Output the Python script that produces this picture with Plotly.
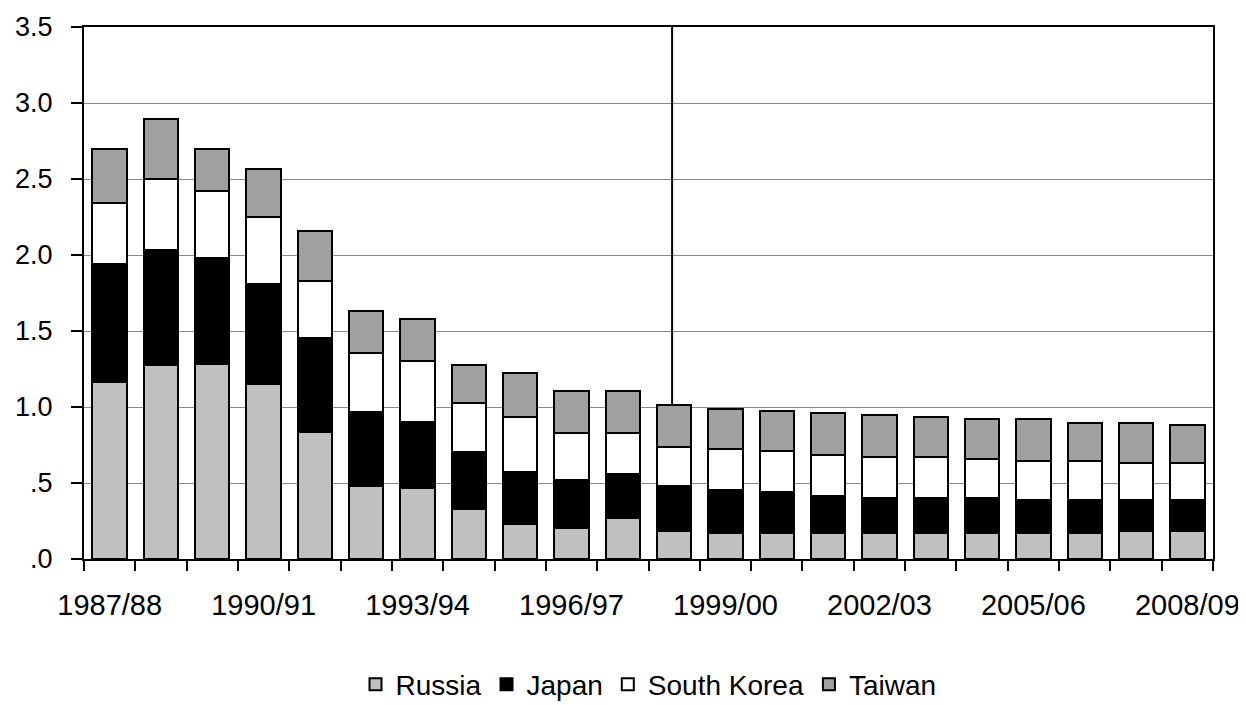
import plotly.graph_objects as go

# ── DATA ──────────────────────────────────────────────────────────────────────

SEASONS = [
    "1987/88", "1988/89", "1989/90", "1990/91", "1991/92", "1992/93",
    "1993/94", "1994/95", "1995/96", "1996/97", "1997/98", "1998/99",
    "1999/00", "2000/01", "2001/02", "2002/03", "2003/04", "2004/05",
    "2005/06", "2006/07", "2007/08", "2008/09",
]

RUSSIA = [1.167, 1.274, 1.285, 1.153, 0.838, 0.483, 0.470, 0.327, 0.232, 0.206, 0.272,
          0.183, 0.169, 0.169, 0.169, 0.169, 0.169, 0.169, 0.169, 0.169, 0.182, 0.182]
JAPAN = [0.773, 0.756, 0.695, 0.654, 0.614, 0.483, 0.431, 0.377, 0.340, 0.312, 0.287,
         0.296, 0.285, 0.272, 0.245, 0.232, 0.232, 0.232, 0.219, 0.219, 0.206, 0.206]
SOUTH_KOREA = [0.404, 0.470, 0.440, 0.443, 0.378, 0.391, 0.404, 0.324, 0.364, 0.311, 0.268,
               0.260, 0.270, 0.270, 0.270, 0.270, 0.272, 0.257, 0.259, 0.259, 0.244, 0.242]
TAIWAN = [0.356, 0.395, 0.280, 0.316, 0.330, 0.276, 0.276, 0.250, 0.290, 0.278, 0.280,
          0.276, 0.263, 0.263, 0.279, 0.279, 0.263, 0.265, 0.276, 0.250, 0.265, 0.254]

Y_TICKS = [0, 0.5, 1.0, 1.5, 2.0, 2.5, 3.0, 3.5]
Y_LABELS = [".0", ".5", "1.0", "1.5", "2.0", "2.5", "3.0", "3.5"]

# season where the vertical divider line is drawn
DIVIDER_SEASON = "1998/99"

# ── STYLE ─────────────────────────────────────────────────────────────────────

FONT = "Liberation Sans, Arial, sans-serif"

SERIES = [
    ("Russia",      RUSSIA,      "#c0c0c0"),
    ("Japan",       JAPAN,       "#000000"),
    ("South Korea", SOUTH_KOREA, "#ffffff"),
    ("Taiwan",      TAIWAN,      "#a0a0a0"),
]

# ── FIGURE ────────────────────────────────────────────────────────────────────

fig = go.Figure()

for name, values, colour in SERIES:
    fig.add_trace(go.Bar(
        x=SEASONS,
        y=values,
        name=name,
        marker=dict(color=colour, line=dict(color="black", width=2)),
    ))

# vertical divider from the top of the divider bar up to the top of the plot
idx = SEASONS.index(DIVIDER_SEASON)
bar_top = RUSSIA[idx] + JAPAN[idx] + SOUTH_KOREA[idx] + TAIWAN[idx]
fig.add_shape(
    type="line",
    xref="x", yref="y",
    x0=idx - 0.04, x1=idx - 0.04,
    y0=bar_top, y1=3.5,
    line=dict(color="black", width=2),
)

tick_text = [s if i % 3 == 0 else "" for i, s in enumerate(SEASONS)]

# the page body adds an 8px margin, so the figure is 8px smaller on each side
fig.update_layout(
    width=1238,
    height=697,
    barmode="stack",
    bargap=0.33,
    plot_bgcolor="white",
    paper_bgcolor="white",
    font=dict(family=FONT, size=27, color="black"),
    margin=dict(l=76, r=33, t=19, b=146, autoexpand=False),
    xaxis=dict(
        type="category",
        tickvals=SEASONS,
        ticktext=tick_text,
        tickson="boundaries",
        ticks="outside",
        ticklen=10,
        tickwidth=2,
        tickcolor="black",
        showline=True,
        linecolor="black",
        linewidth=2,
        mirror=True,
        showgrid=False,
        tickangle=0,
        tickfont=dict(size=29),
        ticklabelstandoff=19,
        automargin=False,
    ),
    yaxis=dict(
        range=[0, 3.5],
        tickvals=Y_TICKS,
        ticktext=Y_LABELS,
        ticks="outside",
        ticklen=11,
        tickwidth=2,
        tickcolor="black",
        showline=True,
        linecolor="black",
        linewidth=2,
        mirror=True,
        showgrid=True,
        gridcolor="#8c8c8c",
        gridwidth=1,
        zeroline=False,
        tickfont=dict(size=27),
        ticklabelstandoff=13,
        automargin=False,
    ),
    legend=dict(
        orientation="h",
        x=0.5, xanchor="center",
        y=-0.236, yanchor="middle",
        traceorder="normal",
        font=dict(size=28),
        itemwidth=30,
    ),
    showlegend=True,
)

fig.write_html("out.html")
